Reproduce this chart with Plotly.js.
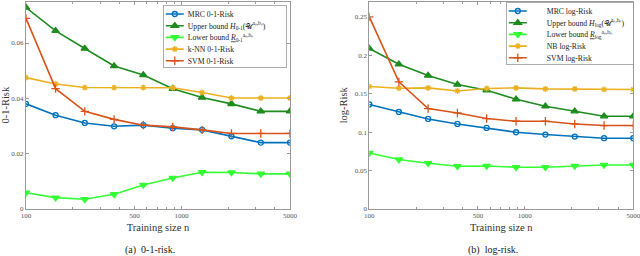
<!DOCTYPE html>
<html><head><meta charset="utf-8">
<script src="https://cdn.plot.ly/plotly-3.0.1.min.js"></script>
<style>body{margin:0;background:#fff}#c{width:640px;height:256px}</style>
</head><body><div id="c"></div>
<script>
// Training sizes (log-spaced)
const trainingSize = [100, 155, 239, 369, 569, 880, 1359, 2099, 3243, 5000];

// (a) 0-1-risk
const mrc01   = [0.0380, 0.0339, 0.0311, 0.0299, 0.0303, 0.0292, 0.0286, 0.0263, 0.0240, 0.0240];
const upper01 = [0.0728, 0.0644, 0.0580, 0.0517, 0.0484, 0.0435, 0.0403, 0.0380, 0.0353, 0.0353];
const lower01 = [0.0059, 0.0041, 0.0035, 0.0053, 0.0087, 0.0112, 0.0133, 0.0132, 0.0127, 0.0127];
const knn01   = [0.0475, 0.0452, 0.0439, 0.0439, 0.0439, 0.0438, 0.0421, 0.0401, 0.0401, 0.0401];
const svm01   = [0.0689, 0.0435, 0.0353, 0.0324, 0.0303, 0.0297, 0.0286, 0.0273, 0.0273, 0.0273];

// (b) log-risk
const mrcLog   = [0.1360, 0.1263, 0.1172, 0.1107, 0.1055, 0.0999, 0.0969, 0.0943, 0.0921, 0.0921];
const upperLog = [0.2089, 0.1884, 0.1737, 0.1620, 0.1546, 0.1428, 0.1337, 0.1272, 0.1207, 0.1207];
const lowerLog = [0.0729, 0.0643, 0.0595, 0.0556, 0.0560, 0.0543, 0.0543, 0.0560, 0.0573, 0.0573];
const nbLog    = [0.1594, 0.1572, 0.1576, 0.1536, 0.1568, 0.1576, 0.1563, 0.1563, 0.1555, 0.1555];
const svmLog   = [0.2500, 0.1654, 0.1307, 0.1250, 0.1177, 0.1142, 0.1142, 0.1107, 0.1086, 0.1086];

const xTickVals = [100, 500, 1000, 5000];
const xTickText = ['100', '500', '1000', '5000'];
const xMinorVals = [200, 300, 400, 600, 700, 800, 900, 2000, 3000, 4000];
const y1TickVals = [0, 0.02, 0.04, 0.06];
const y1TickText = ['0', '0.02', '0.04', '0.06'];
const y2TickVals = [0, 0.05, 0.1, 0.15, 0.2, 0.25];
const y2TickText = ['0', '0.05', '0.1', '0.15', '0.2', '0.25'];

const names01 = ['MRC 0-1-Risk',
  'Upper bound <i>H</i><sub>0-1</sub>(𝒰<sup>aₙ,bₙ</sup>)',
  'Lower bound <u><i>R</i></u><sub>0-1</sub><sup>aₙ,bₙ</sup>',
  'k-NN 0-1-Risk', 'SVM 0-1-Risk'];
const namesLog = ['MRC log-Risk',
  'Upper bound <i>H</i><sub>log</sub>(𝒰<sup>aₙ,bₙ</sup>)',
  'Lower bound <u><i>R</i></u><sub>log</sub><sup>aₙ,bₙ</sup>',
  'NB log-Risk', 'SVM log-Risk'];

const colors = ['#0072BD', '#1E8C1E', '#33FF33', '#EDB120', '#D95319'];
const symbols = ['circle-open', 'triangle-up', 'triangle-down', 'asterisk-open', 'cross-thin-open'];
const msize = [5, 6.5, 6.5, 5, 6];

function mk(y, i, names, xa, ya, lg) {
  return {
    x: trainingSize, y: y, name: names[i], type: 'scatter', mode: 'lines+markers',
    xaxis: xa, yaxis: ya, legend: lg,
    line: {color: colors[i], width: 1.6},
    marker: {symbol: symbols[i], size: msize[i], color: colors[i],
             line: {color: colors[i], width: 1.3}}
  };
}

const data = [
  mk(mrc01, 0, names01, 'x', 'y', 'legend'),
  mk(upper01, 1, names01, 'x', 'y', 'legend'),
  mk(lower01, 2, names01, 'x', 'y', 'legend'),
  mk(knn01, 3, names01, 'x', 'y', 'legend'),
  mk(svm01, 4, names01, 'x', 'y', 'legend'),
  mk(mrcLog, 0, namesLog, 'x2', 'y2', 'legend2'),
  mk(upperLog, 1, namesLog, 'x2', 'y2', 'legend2'),
  mk(lowerLog, 2, namesLog, 'x2', 'y2', 'legend2'),
  mk(nbLog, 3, namesLog, 'x2', 'y2', 'legend2'),
  mk(svmLog, 4, namesLog, 'x2', 'y2', 'legend2')
];

const serif = 'Liberation Serif, Times New Roman, serif';
const axCol = '#9a9a9a';
const tickFont = {family: serif, size: 7, color: '#555'};
const titleFont = {family: serif, size: 10.5, color: '#333'};

function xax(dom, anchor) {
  return {
    type: 'log', domain: dom, anchor: anchor, range: [2, Math.log10(5000)],
    tickmode: 'array', tickvals: xTickVals, ticktext: xTickText,
    ticks: 'inside', ticklen: 3, tickcolor: axCol, tickwidth: 1,
    minor: {tickmode: 'array', tickvals: xMinorVals, ticks: 'inside', ticklen: 2, tickcolor: axCol},
    showline: true, linecolor: axCol, linewidth: 1, mirror: 'ticks',
    showgrid: false, zeroline: false, tickfont: tickFont,
    ticklabeloverflow: 'allow',
    title: {text: 'Training size n', font: titleFont, standoff: 4},
    automargin: false
  };
}
function yax(dom, anchor, range, tv, tt, title) {
  return {
    domain: dom, anchor: anchor, range: range,
    tickmode: 'array', tickvals: tv, ticktext: tt,
    ticks: 'inside', ticklen: 3, tickcolor: axCol,
    showline: true, linecolor: axCol, linewidth: 1, mirror: 'ticks',
    showgrid: false, zeroline: false, tickfont: tickFont,
    ticklabeloverflow: 'allow',
    title: {text: title, font: titleFont, standoff: 4},
    automargin: false
  };
}

const yDom = [1 - 209 / 256, 1 - 1.5 / 256];
const legendBase = {
  bgcolor: '#fff', bordercolor: '#999', borderwidth: 0.8,
  font: {family: serif, size: 7.7, color: '#222'},
  xanchor: 'right', yanchor: 'top', tracegroupgap: 0, itemwidth: 30
};

// legend box right edges and widths (px)
const legendRight = {legend: 286, legend2: 633};
const legendWidth = {legend: 123, legend2: 127};

const layout = {
  width: 640, height: 256,
  margin: {l: 0, r: 0, t: 0, b: 0},
  paper_bgcolor: '#fff', plot_bgcolor: '#fff',
  showlegend: true,
  xaxis: xax([26 / 640, 290 / 640], 'y'),
  yaxis: yax(yDom, 'x', [0, 0.075], y1TickVals, y1TickText, '0-1-Risk'),
  xaxis2: xax([369.3 / 640, 633.3 / 640], 'y2'),
  yaxis2: yax(yDom, 'x2', [0, 0.27], y2TickVals, y2TickText, 'log-Risk'),
  legend: Object.assign({}, legendBase, {x: legendRight.legend / 640, y: 1 - 5 / 256}),
  legend2: Object.assign({}, legendBase, {x: legendRight.legend2 / 640, y: 1 - 2 / 256}),
  annotations: [
    {text: '(a)  0-1-risk.', xref: 'paper', yref: 'paper', x: 150 / 640, y: 1 - 250 / 256,
     showarrow: false, font: {family: serif, size: 10, color: '#222'}, xanchor: 'center', yanchor: 'middle'},
    {text: '(b)  log-risk.', xref: 'paper', yref: 'paper', x: 493 / 640, y: 1 - 250 / 256,
     showarrow: false, font: {family: serif, size: 10, color: '#222'}, xanchor: 'center', yanchor: 'middle'}
  ]
};

// Compact the legend boxes (tighter rows, shorter symbol samples) like the reference.
function compactLegends(gd) {
  const STEP = 11.7, TOP = 9, BOTTOM = 6.5, TEXT_X = 24;
  ['legend', 'legend2'].forEach(id => {
    const lg = gd.querySelector('g.' + id);
    if (!lg || lg.getAttribute('data-compact')) return;
    lg.setAttribute('data-compact', '1');
    const bg = lg.querySelector('rect.bg');
    const traces = lg.querySelectorAll('g.traces');
    traces.forEach((t, i) => {
      const m = /translate\(([-\d.e]+)[ ,]+([-\d.e]+)\)/.exec(t.getAttribute('transform') || '');
      const x = m ? parseFloat(m[1]) : 0;
      t.setAttribute('transform', 'translate(' + x + ',' + (TOP + i * STEP) + ')');
      t.querySelectorAll('.legendlines path').forEach(p => p.setAttribute('d', 'M2,0h18'));
      t.querySelectorAll('.legendsymbols path').forEach(p => p.setAttribute('transform', 'translate(11,0)'));
      const tx = t.querySelector('text.legendtext');
      if (tx) {
        tx.setAttribute('x', TEXT_X);
        tx.querySelectorAll('tspan.line').forEach(s => s.setAttribute('x', TEXT_X));
      }
    });
    if (bg) {
      const newW = legendWidth[id];
      const newH = TOP + (traces.length - 1) * STEP + BOTTOM;
      bg.setAttribute('width', newW);
      bg.setAttribute('height', newH);
      const m = /translate\(([-\d.e]+)[ ,]+([-\d.e]+)\)/.exec(lg.getAttribute('transform') || '');
      if (m) {
        lg.setAttribute('transform', 'translate(' + (legendRight[id] - newW) + ',' + m[2] + ')');
      }
    }
  });
}

Plotly.newPlot('c', data, layout, {displayModeBar: false, staticPlot: true})
  .then(gd => compactLegends(gd));
</script>
</body></html>
